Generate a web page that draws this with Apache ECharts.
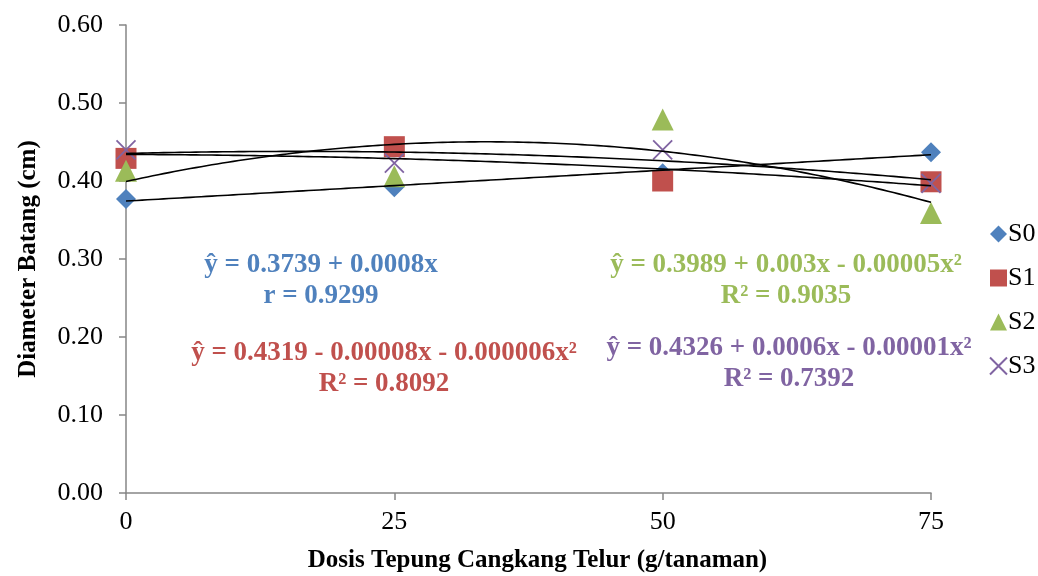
<!DOCTYPE html>
<html>
<head>
<meta charset="utf-8">
<script src="https://cdn.jsdelivr.net/npm/echarts@6/dist/echarts.min.js"></script>
<style>
  html, body { margin: 0; padding: 0; background: #fff; }
  #chart { width: 1038px; height: 576px; }
</style>
</head>
<body>
<div id="chart"></div>
<script>
// Dose levels (g/tanaman) and stem diameter (cm) per treatment
const doses = [0, 25, 50, 75];
const seriesNames = ['S0', 'S1', 'S2', 'S3'];
const s0 = [0.377, 0.392, 0.410, 0.437];
const s1 = [0.429, 0.444, 0.400, 0.399];
const s2 = [0.413, 0.406, 0.479, 0.359];
const s3 = [0.440, 0.423, 0.440, 0.397];
const trendDegree = [1, 2, 2, 2];

const eqS0 = ['ŷ = 0.3739 + 0.0008x', 'r = 0.9299'];
const eqS1 = ['ŷ = 0.4319 - 0.00008x - 0.000006x²', 'R² = 0.8092'];
const eqS2 = ['ŷ = 0.3989 + 0.003x - 0.00005x²', 'R² = 0.9035'];
const eqS3 = ['ŷ = 0.4326 + 0.0006x - 0.00001x²', 'R² = 0.7392'];

const colors = ['#4F81BD', '#C0504D', '#9BBB59', '#8064A2'];
const FONT = '"Liberation Serif", "Times New Roman", serif';

// Least-squares polynomial fit (normal equations, Gaussian elimination)
function polyfit(xs, ys, deg) {
  const n = deg + 1;
  const A = [];
  for (let r = 0; r < n; r++) {
    const row = [];
    for (let c = 0; c < n; c++) {
      let s = 0;
      xs.forEach(x => { s += Math.pow(x, r + c); });
      row.push(s);
    }
    let b = 0;
    xs.forEach((x, i) => { b += Math.pow(x, r) * ys[i]; });
    row.push(b);
    A.push(row);
  }
  for (let i = 0; i < n; i++) {
    let p = i;
    for (let k = i + 1; k < n; k++) if (Math.abs(A[k][i]) > Math.abs(A[p][i])) p = k;
    [A[i], A[p]] = [A[p], A[i]];
    for (let k = i + 1; k < n; k++) {
      const f = A[k][i] / A[i][i];
      for (let c = i; c <= n; c++) A[k][c] -= f * A[i][c];
    }
  }
  const coef = new Array(n).fill(0);
  for (let i = n - 1; i >= 0; i--) {
    let s = A[i][n];
    for (let c = i + 1; c < n; c++) s -= A[i][c] * coef[c];
    coef[i] = s / A[i][i];
  }
  return coef;
}

// Fitted trendline sampled across the dose range
function trendPoints(ys, deg) {
  const coef = polyfit(doses, ys, deg);
  const pts = [];
  const x0 = doses[0], x1 = doses[doses.length - 1];
  for (let x = x0; x <= x1; x += 0.5) {
    let y = 0;
    coef.forEach((c, k) => { y += c * Math.pow(x, k); });
    pts.push([x, y]);
  }
  return pts;
}

const allSeries = [s0, s1, s2, s3];
const symbols = ['diamond', 'rect', 'triangle', 'path://M0,0L10,10M10,0L0,10'];
const symbolSizes = [20, 21, 22, 19];

const series = [];
allSeries.forEach((vals, i) => {
  const isCross = i === 3;
  series.push({
    name: seriesNames[i],
    type: 'scatter',
    data: doses.map((d, j) => [d, vals[j]]),
    symbol: symbols[i],
    symbolSize: symbolSizes[i],
    itemStyle: isCross
      ? { color: 'rgba(0,0,0,0)', borderColor: colors[i], borderWidth: 1.8, opacity: 1 }
      : { color: colors[i], opacity: 1 },
    z: 2 + i
  });
});
allSeries.forEach((vals, i) => {
  series.push({
    name: seriesNames[i] + ' trend',
    type: 'line',
    data: trendPoints(vals, trendDegree[i]),
    showSymbol: false,
    symbol: 'none',
    smooth: false,
    lineStyle: { color: '#000', width: 1.6 },
    silent: true,
    z: 10
  });
});

function eqBlock(lines, color, x, y) {
  return {
    type: 'text',
    x: x, y: y,
    style: {
      text: lines.join('\n'),
      fill: color,
      font: 'bold 27px ' + FONT,
      align: 'center',
      verticalAlign: 'middle',
      lineHeight: 31
    }
  };
}

const chart = echarts.init(document.getElementById('chart'));
chart.setOption({
  animation: false,
  color: colors,
  grid: { left: 126, right: 107, top: 25, bottom: 83, containLabel: false, outerBoundsMode: 'none' },
  xAxis: {
    type: 'value',
    min: 0, max: 75, interval: 25,
    name: 'Dosis Tepung Cangkang Telur (g/tanaman)',
    nameLocation: 'middle',
    nameGap: 55,
    nameTextStyle: { fontFamily: FONT, fontWeight: 'bold', fontSize: 25, color: '#000', padding: [0, 0, 0, 18] },
    axisLine: { lineStyle: { color: '#868686', width: 1.5 } },
    axisTick: { show: true, length: 7, lineStyle: { color: '#868686', width: 1.5 } },
    axisLabel: { fontFamily: FONT, fontSize: 26, color: '#000', margin: 16 },
    splitLine: { show: false }
  },
  yAxis: {
    type: 'value',
    min: 0, max: 0.6, interval: 0.1,
    name: 'Diameter Batang (cm)',
    nameLocation: 'middle',
    nameGap: 85,
    nameRotate: 90,
    nameTextStyle: { fontFamily: FONT, fontWeight: 'bold', fontSize: 25, color: '#000' },
    axisLine: { show: true, lineStyle: { color: '#868686', width: 1.5 } },
    axisTick: { show: true, length: 7, lineStyle: { color: '#868686', width: 1.5 } },
    axisLabel: {
      fontFamily: FONT, fontSize: 26, color: '#000', margin: 23,
      formatter: v => v.toFixed(2)
    },
    splitLine: { show: false }
  },
  legend: {
    data: seriesNames.map((n, i) => ({ name: n, icon: symbols[i] })),
    orient: 'vertical',
    left: 984,
    top: 216,
    itemWidth: 17,
    itemHeight: 17,
    itemGap: 18,
    textStyle: { fontFamily: FONT, fontSize: 26, color: '#000', padding: [0, 0, 0, -4] }
  },
  graphic: [
    eqBlock(eqS0, colors[0], 321, 281),
    eqBlock(eqS1, colors[1], 384, 369),
    eqBlock(eqS2, colors[2], 786, 281),
    eqBlock(eqS3, colors[3], 789, 364)
  ],
  series: series
});
</script>
</body>
</html>
